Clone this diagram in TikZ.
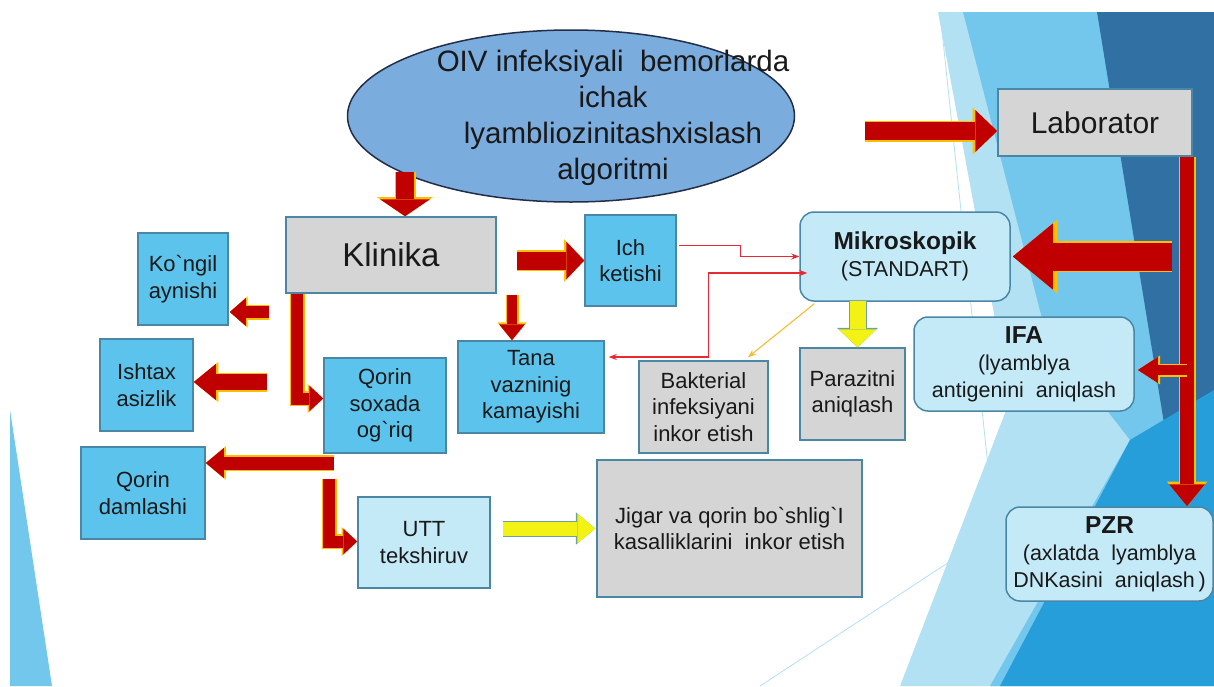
\documentclass[tikz,border=0pt]{standalone}
\usepackage{fontspec}
\setmainfont{Liberation Sans}
\usepackage{tikz}
\usetikzlibrary{shapes.geometric, positioning, calc, arrows.meta}
\definecolor{alRed}{RGB}{192,0,0}
\definecolor{alGold}{RGB}{255,190,0}
\definecolor{alYellow}{RGB}{242,242,20}
\definecolor{alTeal}{RGB}{110,160,160}
\definecolor{alCyan}{RGB}{92,196,236}
\definecolor{alPale}{RGB}{196,234,248}
\definecolor{alGray}{RGB}{213,213,213}
\definecolor{alFrame}{RGB}{74,135,165}
\definecolor{alOval}{RGB}{122,172,222}
\definecolor{alInk}{RGB}{35,45,70}
\definecolor{alLink}{RGB}{232,40,50}
\definecolor{alAmber}{RGB}{245,190,50}
\definecolor{alSkyA}{RGB}{178,225,244}
\definecolor{alSkyB}{RGB}{115,198,236}
\definecolor{alNavy}{RGB}{48,112,162}
\definecolor{alBright}{RGB}{38,158,218}

\newcommand{\bq}{\textasciigrave}
\newcommand{\fsz}[2]{\fontsize{#1}{#2}\selectfont}

\tikzset{
    box/.style={draw=alFrame, line width=1.5pt, align=center, inner sep=2pt, text=black!90, font=\fsz{22}{26.5}},
    cyanbox/.style={box, fill=alCyan},
    graybox/.style={box, fill=alGray},
    palebox/.style={box, fill=alPale},
    roundbox/.style={box, fill=alPale, rounded corners=14pt, font=\fsz{21.5}{27}},
    bigarrow/.style n args={3}{draw=alRed, line width=#1, -{Triangle[length=#3, width=#2, line width=0pt]},
        preaction={draw=alGold, line width=#1+3pt, -{Triangle[length=#3, width=#2, line width=0pt, scale=1.12]}}},
    lightarrow/.style n args={3}{draw=alYellow, line width=#1, -{Triangle[length=#3, width=#2, line width=0pt]},
        preaction={draw=alTeal, line width=#1+2pt, -{Triangle[length=#3, width=#2, line width=0pt, scale=1.08]}}},
    thinlink/.style={draw=alLink, line width=1.1pt},
    amberlink/.style={draw=alAmber, line width=1.1pt},
}

\begin{document}
\begin{tikzpicture}[x=1pt, y=-1pt]
    \useasboundingbox (0,0) rectangle (1214,686);
    \fill[white] (0,0) rectangle (1214,686);
    \fill[alSkyA] (938,12) -- (1214,12) -- (1214,686) -- (900,686) -- (1010,400) -- cycle;
    \fill[alSkyB] (963,12) -- (1214,12) -- (1214,686) -- (990,686) -- (1130,440) -- (1045,330) -- cycle;
    \fill[alNavy] (1097,12) -- (1214,12) -- (1214,600) -- (1170,460) -- cycle;
    \fill[alBright] (1000,686) -- (1130,440) -- (1214,390) -- (1214,686) -- cycle;
    \fill[alSkyB] (10,410) -- (52,686) -- (10,686) -- cycle;
    \draw[alSkyA, line width=0.8pt] (760,686) -- (1120,450);
    \draw[alSkyA, line width=0.8pt] (940,12) -- (1000,580);

    \node[ellipse, draw=alInk, line width=1.5pt, fill=alOval, minimum width=447pt, minimum height=172pt,
        label={[align=center, font=\fsz{29.5}{36}, text=black!90, xshift=42pt, yshift=-2pt]center:{OIV infeksiyali\ \ bemorlarda\\ichak\\lyambliozinitashxislash\\algoritmi}}] (oiv) at (571,116) {};

    \node[graybox, minimum width=210pt, minimum height=76pt, font=\fsz{33}{38}] (klin) at (391,255) {Klinika};
    \node[graybox, minimum width=194pt, minimum height=67pt, font=\fsz{30}{34}] (lab) at (1095,122.5) {Laborator};
    \node[cyanbox, minimum width=91pt, minimum height=91pt] (ich) at (630.5,260.5) {Ich\\ketishi};
    \node[cyanbox, minimum width=90pt, minimum height=92pt] (kong) at (183,279) {Ko\bq ngil\\aynishi};
    \node[cyanbox, minimum width=93pt, minimum height=92pt] (isht) at (146.5,385) {Ishtax\\asizlik};
    \node[cyanbox, minimum width=122pt, minimum height=95pt] (qsox) at (385,405.5) {Qorin\\soxada\\og\bq riq};
    \node[cyanbox, minimum width=146pt, minimum height=92pt] (tana) at (531,387) {Tana\\vazninig\\kamayishi};
    \node[cyanbox, minimum width=124pt, minimum height=92pt] (qdam) at (143,493) {Qorin\\damlashi};
    \node[palebox, minimum width=132pt, minimum height=91pt] (utt) at (424,542.5) {UTT\\tekshiruv};
    \node[graybox, minimum width=265pt, minimum height=137pt] (jig) at (729.5,528.5) {Jigar va qorin bo\bq shlig\bq I\\kasalliklarini\ \ inkor etish};
    \node[roundbox, minimum width=210pt, minimum height=89pt] (mik) at (905,256.5) {{\bfseries\fsz{24.5}{30}Mikroskopik}\\(STANDART)};
    \node[graybox, minimum width=129pt, minimum height=92pt] (bak) at (703.5,407) {Bakterial\\infeksiyani\\inkor etish};
    \node[graybox, minimum width=105pt, minimum height=92pt] (par) at (852.5,394) {Parazitni\\aniqlash};
    \node[roundbox, minimum width=220pt, minimum height=94pt] (ifa) at (1024,364) {{\bfseries\fsz{24.5}{30}IFA}\\(lyamblya\\antigenini\ \ aniqlash};
    \node[roundbox, minimum width=207pt, minimum height=94pt] (pzr) at (1109.5,554) {{\bfseries\fsz{24.5}{30}PZR}\\(axlatda\ \ lyamblya\\DNKasini\ \ aniqlash\,)};

    \coordinate (trunk) at ($(lab.south)+(92,0)$);
    \draw[bigarrow={18pt}{50pt}{17pt}] ($(klin.north)+(14,-44)$) -- ($(klin.north)+(14,0)$);
    \draw[bigarrow={18pt}{38pt}{18pt}] ($(klin.east |- ich.west)+(20,0)$) -- (ich.west);
    \draw[bigarrow={18pt}{42pt}{22pt}] ($(lab.west)+(-132,8.5)$) -- ($(lab.west)+(0,8.5)$);
    \draw[bigarrow={14pt}{36pt}{22pt}] (trunk) -- (trunk |- pzr.north);
    \draw[bigarrow={28pt}{66pt}{40pt}] ($(trunk |- mik.east)+(-15,0)$) -- ($(mik.east)+(2,0)$);
    \draw[bigarrow={10pt}{26pt}{20pt}] ($(trunk |- ifa.east)+(0,6)$) -- ($(ifa.east)+(3,6)$);
    \draw[bigarrow={12pt}{28pt}{16pt}] ($(kong.east)+(40,33)$) -- ($(kong.east)+(1,33)$);
    \draw[bigarrow={16pt}{36pt}{22pt}] ($(isht.east)+(73,-3)$) -- ($(isht.east)+(0,-3)$);
    \draw[bigarrow={12pt}{26pt}{14pt}] ($(klin.south west)+(12,0)$) |- ($(qsox.west)+(0,-7)$);
    \draw[bigarrow={10pt}{26pt}{16pt}] ($(tana.north)+(-19,-45)$) -- ($(tana.north)+(-19,0)$);
    \draw[bigarrow={13pt}{30pt}{18pt}] ($(qdam.east)+(128,-30)$) -- ($(qdam.east)+(0,-30)$);
    \draw[bigarrow={12pt}{26pt}{14pt}] ($(utt.west)+(-28,-64)$) |- ($(utt.west)+(0,-1)$);
    \draw[lightarrow={14pt}{30pt}{18pt}] ($(utt.east)+(12,-14)$) -- ($(jig.west)+(-1,0)$);
    \draw[lightarrow={16pt}{38pt}{18pt}] ($(par.north)+(5,-46)$) -- ($(par.north)+(5,0)$);

    \draw[thinlink, -{Stealth[length=8pt, width=6pt]}] ($(ich.east)+(2,-15)$) -- ++(62,0) |- (mik.west);
    \draw[thinlink, {Stealth[length=8pt, width=6pt]}-{Stealth[length=8pt, width=6pt]}] ($(tana.east)+(4,-30)$) -- ($(tana.east)+(104,-30)$) |- ($(mik.west)+(8,16.5)$);
    \draw[amberlink, -{Stealth[length=8pt, width=6pt]}] ($(mik.south west)+(15,2)$) -- ($(bak.north)+(44.5,-3)$);
\end{tikzpicture}
\end{document}
